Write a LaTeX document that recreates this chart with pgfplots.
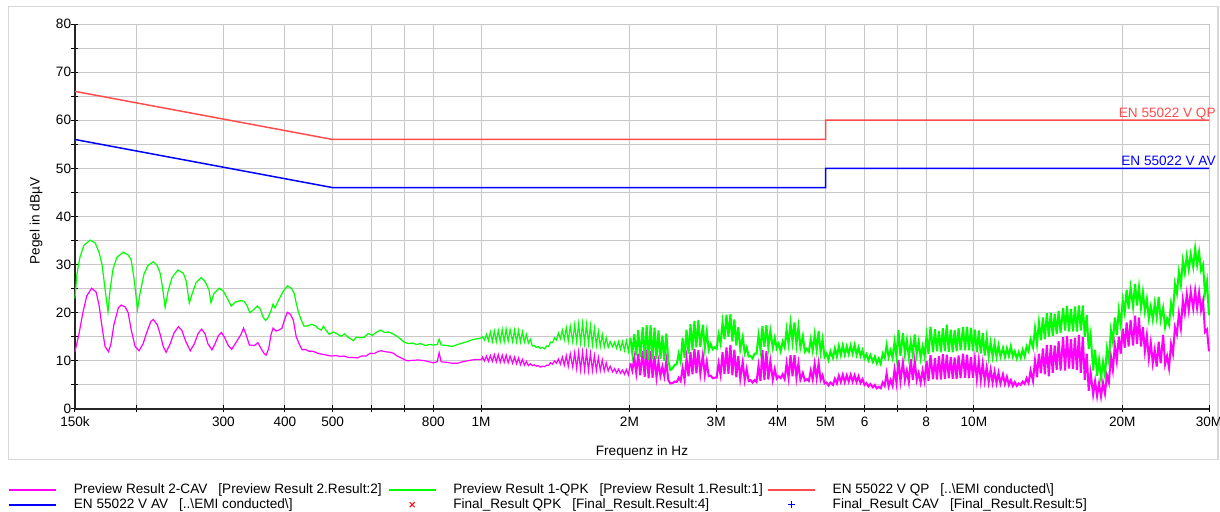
\documentclass[border=0pt]{standalone}
\usepackage{fontspec}
\setmainfont{Liberation Sans}
\usepackage{pgfplots}
\pgfplotsset{compat=1.18}

\definecolor{qpred}{RGB}{255,77,77}
\definecolor{avblue}{RGB}{0,0,255}
\definecolor{qpkgreen}{RGB}{0,255,0}
\definecolor{cavmag}{RGB}{255,0,255}
\definecolor{gridgray}{RGB}{200,200,200}
\definecolor{framegray}{RGB}{215,215,215}

\newcommand{\lbl}{\fontsize{6.8}{8}\selectfont}
\newcommand{\entry}[1]{\makebox[156pt][l]{#1}}
\pgfplotsset{
  lineleg/.style={legend image code/.code={\draw[##1] (0pt,0pt) -- (23.5pt,0pt);}},
  markleg/.style={legend image code/.code={\draw[##1] plot coordinates {(11.75pt,0pt)};}}}

\begin{document}
\begin{tikzpicture}
\useasboundingbox (-37.5pt,-51.5pt) rectangle (572.5pt,204.5pt);
\draw[framegray, line width=0.6pt] (-33.4pt,-25.2pt) rectangle (571.5pt,201.2pt);
\begin{axis}[
    scale only axis, width=567pt, height=192.5pt,
    at={(0pt,0pt)}, anchor=south west,
    xmin=5.17609, xmax=7.47712, ymin=0, ymax=80,
    clip=false,
    axis x line*=bottom, axis y line*=left,
    axis line style={-, line width=0.7pt, black!85},
    xtick={5.17609,5.30103,5.47712,5.60206,5.69897,5.77815,5.84510,5.90309,6,
           6.30103,6.47712,6.60206,6.69897,6.77815,6.84510,6.90309,7,7.30103,7.47712},
    xticklabels={150k,,300,400,500,,,800,1M,2M,3M,4M,5M,6,,8,10M,20M,30M},
    ytick={0,10,...,80},
    minor ytick={5,15,...,75},
    grid=both,
    major grid style={gridgray, line width=0.5pt},
    minor grid style={gridgray, line width=0.5pt},
    tick align=center,
    major tick length=3.5pt, minor tick length=3.5pt,
    tick style={black, line width=0.5pt},
    /pgf/number format/assume math mode=true,
    tick label style={font=\lbl},
    yticklabel style={inner sep=0pt, anchor=east},
    xticklabel style={inner sep=0pt, anchor=north, yshift=-2pt},
    xlabel={Frequenz in Hz},
    ylabel={Pegel in dBµV},
    xlabel style={at={(axis description cs:0.5,-0.1117)}, anchor=center, font=\lbl},
    ylabel style={at={(axis description cs:-0.0344,0.488)}, anchor=center, font=\lbl},
    legend columns=3,
    legend cell align=left,
    legend style={at={(axis description cs:-0.0588,-0.1922)}, anchor=north west,
        draw=none, fill=none, inner sep=0pt, outer sep=0pt, font=\lbl,
        row sep=0.8pt,
        nodes={inner sep=0pt, text height=5.2pt, text depth=1.5pt},
        /tikz/every odd column/.append style={column sep=8.3pt},
        /tikz/every even column/.append style={column sep=0.9pt}},
]

% EN 55022 class B limits (x = log10 of frequency in Hz)
\addplot[qpred, line width=0.75pt, forget plot] coordinates {
(5.17609,66) (5.69897,56) (6.69897,56) (6.69897,60) (7.47712,60)
};
\addplot[avblue, line width=0.75pt, forget plot] coordinates {
(5.17609,56) (5.69897,46) (6.69897,46) (6.69897,50) (7.47712,50)
};

% Preview Result 2-CAV, 150 kHz - 2 MHz
\addplot[cavmag, line width=0.6pt, forget plot] coordinates {
(5.176,11.9) (5.184,15.5) (5.192,20.0) (5.200,23.5) (5.210,25.1) (5.219,24.3) (5.225,21.5) (5.231,17.0)
(5.237,13.0) (5.244,11.9) (5.249,13.5) (5.255,17.5) (5.264,21.0) (5.270,21.6) (5.278,21.2) (5.284,20.0)
(5.290,16.5) (5.298,13.0) (5.306,12.1) (5.314,13.5) (5.322,16.0) (5.330,18.2) (5.335,18.6) (5.343,17.5)
(5.349,15.5) (5.355,13.0) (5.361,11.8) (5.369,13.5) (5.377,15.8) (5.386,17.1) (5.393,16.3) (5.401,14.0)
(5.410,12.1) (5.418,13.5) (5.426,15.7) (5.433,16.6) (5.440,15.6) (5.446,13.5) (5.454,12.3) (5.460,13.5)
(5.467,15.2) (5.473,15.9) (5.479,15.0) (5.487,13.2) (5.494,12.4) (5.501,13.5) (5.508,14.7) (5.513,15.5)
(5.518,16.8) (5.523,15.5) (5.530,13.3) (5.538,13.2) (5.542,13.3) (5.547,13.8) (5.554,12.5) (5.560,11.5)
(5.564,11.2) (5.569,12.5) (5.574,15.5) (5.578,16.8) (5.584,16.2) (5.590,16.4) (5.596,16.8) (5.601,18.5)
(5.607,20.1) (5.613,19.7) (5.619,18.5) (5.625,15.0) (5.631,13.5) (5.637,12.3) (5.643,12.4) (5.651,12.0)
(5.659,12.0) (5.668,11.6) (5.676,11.4) (5.687,11.2) (5.696,11.0) (5.706,11.1) (5.714,10.9) (5.722,11.0)
(5.731,10.7) (5.741,10.7) (5.749,10.6) (5.757,11.0) (5.767,11.0) (5.775,11.6) (5.783,11.5) (5.792,12.0)
(5.798,12.1) (5.806,11.9) (5.814,11.8) (5.822,11.6) (5.830,11.0) (5.838,10.6) (5.850,10.0) (5.861,10.1)
(5.873,10.2) (5.887,10.0) (5.895,9.8) (5.903,9.6) (5.911,9.8) (5.915,11.7) (5.919,9.8) (5.930,9.7)
(5.942,9.5) (5.952,9.5) (5.962,9.8) (5.972,10.0) (5.982,10.2) (5.993,10.3) (6.001,10.3)
(6.003,10.8) (6.007,10.0) (6.011,11.0) (6.015,9.9) (6.019,11.1)
(6.023,9.9) (6.027,11.3) (6.031,9.8) (6.035,11.3) (6.039,9.7)
(6.043,11.2) (6.047,9.7) (6.051,11.2) (6.055,9.6) (6.059,11.0)
(6.064,9.5) (6.068,10.8) (6.072,9.4) (6.076,10.6) (6.080,9.2)
(6.084,10.3) (6.088,9.1) (6.092,9.9) (6.096,9.0) (6.100,9.4)
(6.104,9.0) (6.108,9.2) (6.112,8.9) (6.116,9.0) (6.120,8.7)
(6.125,8.9) (6.129,8.8) (6.133,9.1) (6.137,9.1) (6.141,9.6)
(6.145,9.3) (6.149,10.0) (6.153,9.5) (6.157,10.4) (6.161,9.3)
(6.165,10.8) (6.169,9.1) (6.173,11.1) (6.177,8.9) (6.181,11.5)
(6.186,8.7) (6.190,11.7) (6.194,8.4) (6.198,11.9) (6.202,8.1)
(6.206,11.9) (6.210,8.1) (6.214,11.8) (6.218,8.0) (6.222,11.6)
(6.226,8.0) (6.230,11.1) (6.234,8.0) (6.238,10.7) (6.242,8.0)
(6.246,10.2) (6.250,7.9) (6.254,9.6) (6.258,7.9) (6.262,8.9)
(6.267,7.7) (6.271,8.4) (6.275,7.5) (6.279,8.3) (6.283,7.4)
(6.287,8.1) (6.291,7.2) (6.295,8.2) (6.299,7.1) (6.303,9.5)
};

% Preview Result 1-QPK, 150 kHz - 2 MHz
\addplot[qpkgreen, line width=0.6pt, forget plot] coordinates {
(5.176,23.0) (5.180,28.0) (5.186,31.5) (5.194,34.0) (5.207,35.1) (5.217,34.5) (5.225,32.5) (5.231,30.0)
(5.237,25.0) (5.243,20.2) (5.247,24.5) (5.253,29.0) (5.261,31.5) (5.274,32.6) (5.284,32.0) (5.290,31.0)
(5.296,27.0) (5.303,20.7) (5.308,24.0) (5.316,28.0) (5.324,29.8) (5.335,30.6) (5.343,29.8) (5.349,28.2)
(5.354,25.0) (5.359,21.1) (5.365,24.5) (5.373,27.3) (5.385,28.9) (5.396,28.2) (5.402,26.5) (5.408,22.0)
(5.414,24.0) (5.422,26.3) (5.432,27.3) (5.440,26.5) (5.444,25.6) (5.448,24.8) (5.452,22.1) (5.458,24.0)
(5.469,25.1) (5.477,24.5) (5.485,23.0) (5.493,21.4) (5.501,22.2) (5.511,22.5) (5.519,22.4) (5.525,21.5)
(5.531,20.0) (5.538,20.6) (5.546,21.4) (5.552,20.8) (5.558,19.0) (5.563,18.4) (5.568,19.0) (5.574,20.5)
(5.578,21.8) (5.582,21.0) (5.590,22.8) (5.599,24.5) (5.607,25.6) (5.615,25.1) (5.621,24.0) (5.625,22.0)
(5.629,20.3) (5.635,18.5) (5.641,17.2) (5.649,17.3) (5.656,17.6) (5.664,17.3) (5.670,16.7) (5.676,16.4)
(5.680,17.2) (5.686,16.3) (5.692,15.5) (5.700,16.0) (5.708,15.6) (5.716,15.1) (5.723,15.6) (5.729,15.0)
(5.735,14.6) (5.741,14.2) (5.747,14.9) (5.755,14.8) (5.763,14.9) (5.771,15.7) (5.779,15.3) (5.787,15.9)
(5.796,16.4) (5.804,15.9) (5.812,16.0) (5.820,15.7) (5.828,15.2) (5.836,14.6) (5.844,13.9) (5.852,13.6)
(5.861,13.7) (5.869,13.4) (5.877,13.6) (5.887,13.2) (5.895,13.4) (5.903,13.3) (5.911,13.4) (5.915,14.5)
(5.919,13.3) (5.930,13.2) (5.942,13.0) (5.952,13.4) (5.962,13.7) (5.972,14.0) (5.982,14.4) (5.993,14.6)
(6.001,14.8)
(6.003,15.0) (6.007,14.3) (6.011,15.5) (6.015,14.2) (6.019,16.0)
(6.023,14.0) (6.027,16.2) (6.031,14.0) (6.035,16.3) (6.039,14.0)
(6.043,16.5) (6.047,14.0) (6.051,16.6) (6.055,14.1) (6.059,16.5)
(6.064,14.0) (6.068,16.4) (6.072,14.0) (6.076,16.3) (6.080,13.9)
(6.084,16.0) (6.088,13.9) (6.092,15.5) (6.096,13.7) (6.100,14.5)
(6.104,13.1) (6.108,13.2) (6.112,12.8) (6.116,13.0) (6.120,12.6)
(6.125,12.8) (6.129,12.5) (6.133,13.1) (6.137,13.0) (6.141,13.9)
(6.145,13.8) (6.149,14.8) (6.153,14.3) (6.157,15.8) (6.161,14.6)
(6.165,16.4) (6.169,14.4) (6.173,16.9) (6.177,14.1) (6.181,17.2)
(6.186,14.0) (6.190,17.5) (6.194,14.0) (6.198,17.7) (6.202,13.8)
(6.206,17.8) (6.210,13.7) (6.214,17.6) (6.218,13.6) (6.222,17.3)
(6.226,13.4) (6.230,16.8) (6.234,13.2) (6.238,16.1) (6.242,13.0)
(6.246,15.5) (6.250,12.9) (6.254,14.8) (6.258,12.8) (6.262,14.0)
(6.267,12.9) (6.271,13.9) (6.275,12.6) (6.279,14.0) (6.283,12.4)
(6.287,14.0) (6.291,12.2) (6.295,14.2) (6.299,12.0) (6.303,14.8)
};

% Preview Result 2-CAV, 2 MHz - 30 MHz (dense ripple)
\addplot[cavmag, line width=1pt, forget plot] coordinates {
(6.303,9.5)
(6.307,8.0) (6.311,10.7) (6.315,7.5) (6.319,11.5) (6.323,7.0)
(6.328,12.0) (6.332,6.7) (6.336,12.3) (6.340,6.4) (6.344,12.0)
(6.348,6.5) (6.352,11.0) (6.356,6.6) (6.360,9.8) (6.364,6.9)
(6.368,8.8) (6.372,6.8) (6.376,10.0) (6.380,6.0) (6.384,5.3)
(6.389,5.4) (6.393,5.7) (6.397,5.6) (6.401,6.5) (6.405,5.8)
(6.409,8.5) (6.413,6.1) (6.417,10.5) (6.421,6.8) (6.425,11.8)
(6.429,7.2) (6.433,12.5) (6.437,7.4) (6.441,12.2) (6.445,7.3)
(6.450,11.2) (6.454,7.1) (6.458,9.8) (6.462,6.8) (6.466,6.9)
(6.470,6.4) (6.474,6.5) (6.478,6.5) (6.482,9.5) (6.486,7.1)
(6.490,11.8) (6.494,7.3) (6.498,12.8) (6.502,7.3) (6.506,13.3)
(6.510,7.0) (6.514,12.3) (6.518,6.6) (6.522,11.0) (6.526,6.3)
(6.531,9.8) (6.535,6.0) (6.539,8.3) (6.543,5.8) (6.547,6.0)
(6.551,5.5) (6.555,6.0) (6.559,5.6) (6.563,9.0) (6.567,5.8)
(6.571,12.2) (6.575,6.0) (6.579,12.0) (6.583,6.1) (6.587,10.0)
(6.592,6.1) (6.596,8.3) (6.600,6.3) (6.604,6.8) (6.608,6.4)
(6.612,7.2) (6.616,6.2) (6.620,9.5) (6.624,6.5) (6.628,11.2)
(6.632,6.8) (6.636,11.2) (6.640,6.5) (6.644,9.5) (6.648,6.1)
(6.653,7.5) (6.657,5.9) (6.661,6.2) (6.665,5.8) (6.669,8.0)
(6.673,6.1) (6.677,9.4) (6.681,6.4) (6.685,9.5) (6.689,6.0)
(6.693,7.0) (6.697,5.3) (6.701,5.5) (6.705,4.9) (6.709,5.5)
(6.714,5.0) (6.718,6.3) (6.722,5.3) (6.726,6.9) (6.730,5.6)
(6.734,7.1) (6.738,5.6) (6.742,7.0) (6.746,5.7) (6.750,7.1)
(6.754,5.7) (6.758,7.0) (6.762,5.6) (6.766,6.8) (6.770,5.4)
(6.774,6.2) (6.778,5.0) (6.782,5.4) (6.786,4.7) (6.790,5.2)
(6.795,4.5) (6.799,5.0) (6.803,4.3) (6.807,4.6) (6.811,4.3)
(6.815,5.5) (6.819,4.8) (6.823,7.4) (6.827,4.7) (6.831,6.0)
(6.835,4.8) (6.839,8.2) (6.843,5.4) (6.847,10.2) (6.851,5.8)
(6.856,9.7) (6.860,6.0) (6.864,8.0) (6.868,5.6) (6.872,10.4)
(6.876,6.0) (6.880,10.0) (6.884,6.0) (6.888,7.5) (6.892,5.5)
(6.896,8.0) (6.900,5.8) (6.904,10.0) (6.908,5.8) (6.912,11.2)
(6.917,6.2) (6.921,10.6) (6.925,6.1) (6.929,11.0) (6.933,6.1)
(6.937,11.4) (6.941,6.2) (6.945,11.3) (6.949,6.4) (6.953,10.8)
(6.957,6.3) (6.961,10.7) (6.965,6.2) (6.969,11.1) (6.973,6.4)
(6.978,11.5) (6.982,6.5) (6.986,11.3) (6.990,6.4) (6.994,10.8)
(6.998,6.5) (7.002,10.4) (7.006,6.2) (7.010,10.1) (7.014,6.0)
(7.018,9.5) (7.022,5.9) (7.026,8.7) (7.030,5.6) (7.034,8.2)
(7.038,5.5) (7.042,7.8) (7.046,5.4) (7.050,7.5) (7.054,5.3)
(7.059,7.2) (7.063,5.2) (7.067,6.7) (7.071,5.0) (7.075,6.0)
(7.079,4.8) (7.083,5.6) (7.087,4.8) (7.091,5.3) (7.095,5.0)
(7.099,5.7) (7.103,5.2) (7.107,6.4) (7.111,5.4) (7.115,8.0)
(7.120,5.8) (7.124,10.1) (7.128,6.6) (7.132,11.5) (7.136,7.4)
(7.140,12.6) (7.144,7.2) (7.148,13.3) (7.152,6.8) (7.156,13.3)
(7.160,7.5) (7.164,13.2) (7.168,8.1) (7.172,14.1) (7.176,8.0)
(7.181,14.9) (7.185,8.0) (7.189,15.2) (7.193,8.4) (7.197,14.5)
(7.201,8.3) (7.205,14.8) (7.209,8.1) (7.213,15.4) (7.217,7.5)
(7.221,15.0) (7.225,6.0) (7.229,11.5) (7.233,3.8) (7.237,7.5)
(7.242,3.0) (7.246,5.8) (7.250,2.7) (7.254,5.3) (7.258,2.6)
(7.262,5.5) (7.266,3.2) (7.270,7.0) (7.274,5.5) (7.278,11.0)
(7.282,8.1) (7.286,13.2) (7.290,10.0) (7.294,15.0) (7.298,11.5)
(7.302,16.7) (7.306,12.7) (7.310,18.0) (7.314,13.0) (7.318,18.5)
(7.323,13.2) (7.327,19.4) (7.331,13.5) (7.335,19.0) (7.339,13.0)
(7.343,17.0) (7.347,12.0) (7.351,15.3) (7.355,10.5) (7.359,13.8)
(7.363,9.5) (7.367,12.3) (7.371,8.8) (7.375,14.0) (7.379,9.5)
(7.384,15.4) (7.388,9.3) (7.392,11.0) (7.396,8.5) (7.400,13.5)
(7.404,11.5) (7.408,17.0) (7.412,15.5) (7.416,19.8) (7.420,16.8)
(7.424,22.6) (7.428,19.9) (7.432,23.8) (7.436,20.5) (7.440,24.4)
(7.445,20.9) (7.449,24.6) (7.453,21.0) (7.457,24.2) (7.461,20.5)
(7.465,22.5) (7.469,16.0) (7.473,16.5) (7.477,12.0)
};

% Preview Result 1-QPK, 2 MHz - 30 MHz (dense ripple)
\addplot[qpkgreen, line width=1pt, forget plot] coordinates {
(6.303,14.8)
(6.307,11.5) (6.311,15.6) (6.315,11.1) (6.319,16.4) (6.323,10.8)
(6.328,17.0) (6.332,10.5) (6.336,17.4) (6.340,10.2) (6.344,17.4)
(6.348,10.3) (6.352,16.9) (6.356,10.4) (6.360,16.3) (6.364,10.4)
(6.368,15.3) (6.372,10.0) (6.376,15.7) (6.380,10.0) (6.384,8.1)
(6.389,8.5) (6.393,9.2) (6.397,9.3) (6.401,11.5) (6.405,9.8)
(6.409,14.8) (6.413,10.6) (6.417,16.5) (6.421,11.4) (6.425,17.6)
(6.429,12.2) (6.433,18.3) (6.437,12.8) (6.441,18.5) (6.445,12.9)
(6.450,17.5) (6.454,12.7) (6.458,16.0) (6.462,12.3) (6.466,13.5)
(6.470,12.4) (6.474,12.8) (6.478,12.5) (6.482,15.5) (6.486,13.6)
(6.490,18.0) (6.494,14.5) (6.498,19.6) (6.502,15.0) (6.506,19.7)
(6.510,14.0) (6.514,18.6) (6.518,13.2) (6.522,17.0) (6.526,12.4)
(6.531,15.0) (6.535,11.6) (6.539,12.8) (6.543,10.9) (6.547,11.0)
(6.551,10.5) (6.555,11.5) (6.559,11.5) (6.563,15.3) (6.567,12.3)
(6.571,17.2) (6.575,12.9) (6.579,17.4) (6.583,12.8) (6.587,16.2)
(6.592,12.7) (6.596,14.8) (6.600,12.6) (6.604,13.6) (6.608,12.0)
(6.612,14.0) (6.616,12.8) (6.620,16.5) (6.624,13.5) (6.628,17.8)
(6.632,14.0) (6.636,18.0) (6.640,13.4) (6.644,17.0) (6.648,12.8)
(6.653,15.2) (6.657,11.9) (6.661,12.5) (6.665,11.9) (6.669,14.5)
(6.673,12.1) (6.677,15.5) (6.681,12.3) (6.685,16.2) (6.689,11.8)
(6.693,14.5) (6.697,10.8) (6.701,11.5) (6.705,10.2) (6.709,12.0)
(6.714,10.6) (6.718,12.6) (6.722,10.9) (6.726,13.1) (6.730,11.2)
(6.734,13.2) (6.738,11.3) (6.742,13.0) (6.746,11.4) (6.750,13.2)
(6.754,11.5) (6.758,13.3) (6.762,11.3) (6.766,12.8) (6.770,11.0)
(6.774,12.2) (6.778,10.5) (6.782,11.4) (6.786,10.1) (6.790,11.2)
(6.795,9.8) (6.799,10.9) (6.803,9.5) (6.807,10.5) (6.811,9.4)
(6.815,11.5) (6.819,10.6) (6.823,13.3) (6.827,10.8) (6.831,12.2)
(6.835,10.6) (6.839,14.0) (6.843,10.9) (6.847,16.4) (6.851,11.0)
(6.856,15.8) (6.860,11.4) (6.864,14.3) (6.868,10.8) (6.872,14.0)
(6.876,11.2) (6.880,15.5) (6.884,11.4) (6.888,14.0) (6.892,10.6)
(6.896,13.0) (6.900,10.9) (6.904,15.2) (6.908,11.4) (6.912,17.1)
(6.917,11.8) (6.921,16.6) (6.925,12.0) (6.929,16.2) (6.933,11.8)
(6.937,16.8) (6.941,12.0) (6.945,17.5) (6.949,11.9) (6.953,16.5)
(6.957,11.8) (6.961,16.4) (6.965,12.0) (6.969,16.8) (6.973,12.2)
(6.978,17.0) (6.982,12.2) (6.986,17.1) (6.990,12.2) (6.994,16.9)
(6.998,12.0) (7.002,16.5) (7.006,11.8) (7.010,16.3) (7.014,11.5)
(7.018,15.8) (7.022,11.1) (7.026,14.8) (7.030,10.9) (7.034,13.8)
(7.038,10.9) (7.042,13.6) (7.046,10.9) (7.050,13.2) (7.054,10.9)
(7.059,12.7) (7.063,10.8) (7.067,12.6) (7.071,11.0) (7.075,13.0)
(7.079,10.9) (7.083,12.0) (7.087,10.5) (7.091,11.8) (7.095,10.6)
(7.099,12.3) (7.103,10.9) (7.107,13.0) (7.111,12.0) (7.115,14.5)
(7.120,12.8) (7.124,16.8) (7.128,13.5) (7.132,18.0) (7.136,14.3)
(7.140,19.0) (7.144,14.5) (7.148,19.9) (7.152,15.0) (7.156,20.0)
(7.160,15.2) (7.164,19.8) (7.168,15.6) (7.172,20.4) (7.176,15.8)
(7.181,21.0) (7.185,16.3) (7.189,21.4) (7.193,16.1) (7.197,20.8)
(7.201,16.1) (7.205,21.3) (7.209,16.1) (7.213,21.5) (7.217,16.3)
(7.221,21.5) (7.225,15.0) (7.229,19.5) (7.233,12.5) (7.237,15.5)
(7.242,8.0) (7.246,12.3) (7.250,6.9) (7.254,10.2) (7.258,6.4)
(7.262,9.8) (7.266,7.0) (7.270,12.5) (7.274,10.0) (7.278,16.4)
(7.282,14.0) (7.286,19.0) (7.290,15.4) (7.294,20.5) (7.298,17.5)
(7.302,22.6) (7.306,20.0) (7.310,24.8) (7.314,20.8) (7.318,25.2)
(7.323,21.2) (7.327,26.0) (7.331,21.5) (7.335,25.3) (7.339,21.0)
(7.343,24.3) (7.347,20.3) (7.351,22.8) (7.355,18.8) (7.359,21.3)
(7.363,18.6) (7.367,22.0) (7.371,19.0) (7.375,23.3) (7.379,18.5)
(7.384,21.0) (7.388,17.0) (7.392,18.8) (7.396,17.5) (7.400,22.0)
(7.404,20.0) (7.408,26.0) (7.412,24.0) (7.416,28.5) (7.420,25.8)
(7.424,30.8) (7.428,28.3) (7.432,31.8) (7.436,29.0) (7.440,32.2)
(7.445,29.5) (7.449,33.4) (7.453,29.9) (7.457,32.6) (7.461,28.8)
(7.465,30.0) (7.469,24.0) (7.473,26.5) (7.477,19.5)
};

% legend
\addlegendimage{cavmag, line width=1pt, lineleg}
\addlegendentry{\entry{Preview Result 2-CAV\hspace{5.5pt}[Preview Result 2.Result:2]}}
\addlegendimage{qpkgreen, line width=1pt, lineleg}
\addlegendentry{\entry{Preview Result 1-QPK\hspace{5.5pt}[Preview Result 1.Result:1]}}
\addlegendimage{qpred, line width=1pt, lineleg}
\addlegendentry{\entry{EN 55022 V QP\hspace{5.5pt}[..\textbackslash EMI conducted\textbackslash]}}
\addlegendimage{avblue, line width=1pt, lineleg}
\addlegendentry{\entry{EN 55022 V AV\hspace{5.5pt}[..\textbackslash EMI conducted\textbackslash]}}
\addlegendimage{only marks, mark=x, red, mark size=1.8pt, line width=0.5pt, markleg}
\addlegendentry{\entry{Final\_Result QPK\hspace{5.5pt}[Final\_Result.Result:4]}}
\addlegendimage{only marks, mark=+, avblue, mark size=1.8pt, line width=0.5pt, markleg}
\addlegendentry{\entry{Final\_Result CAV\hspace{5.5pt}[Final\_Result.Result:5]}}

\node[anchor=base east, inner sep=0pt, xshift=3.5pt, yshift=1.6pt, text=qpred, font=\lbl]
    at (axis cs:7.47712,60) {EN 55022 V QP};
\node[anchor=base east, inner sep=0pt, xshift=3.5pt, yshift=1.6pt, text=avblue, font=\lbl]
    at (axis cs:7.47712,50) {EN 55022 V AV};
\end{axis}
\end{tikzpicture}
\end{document}
